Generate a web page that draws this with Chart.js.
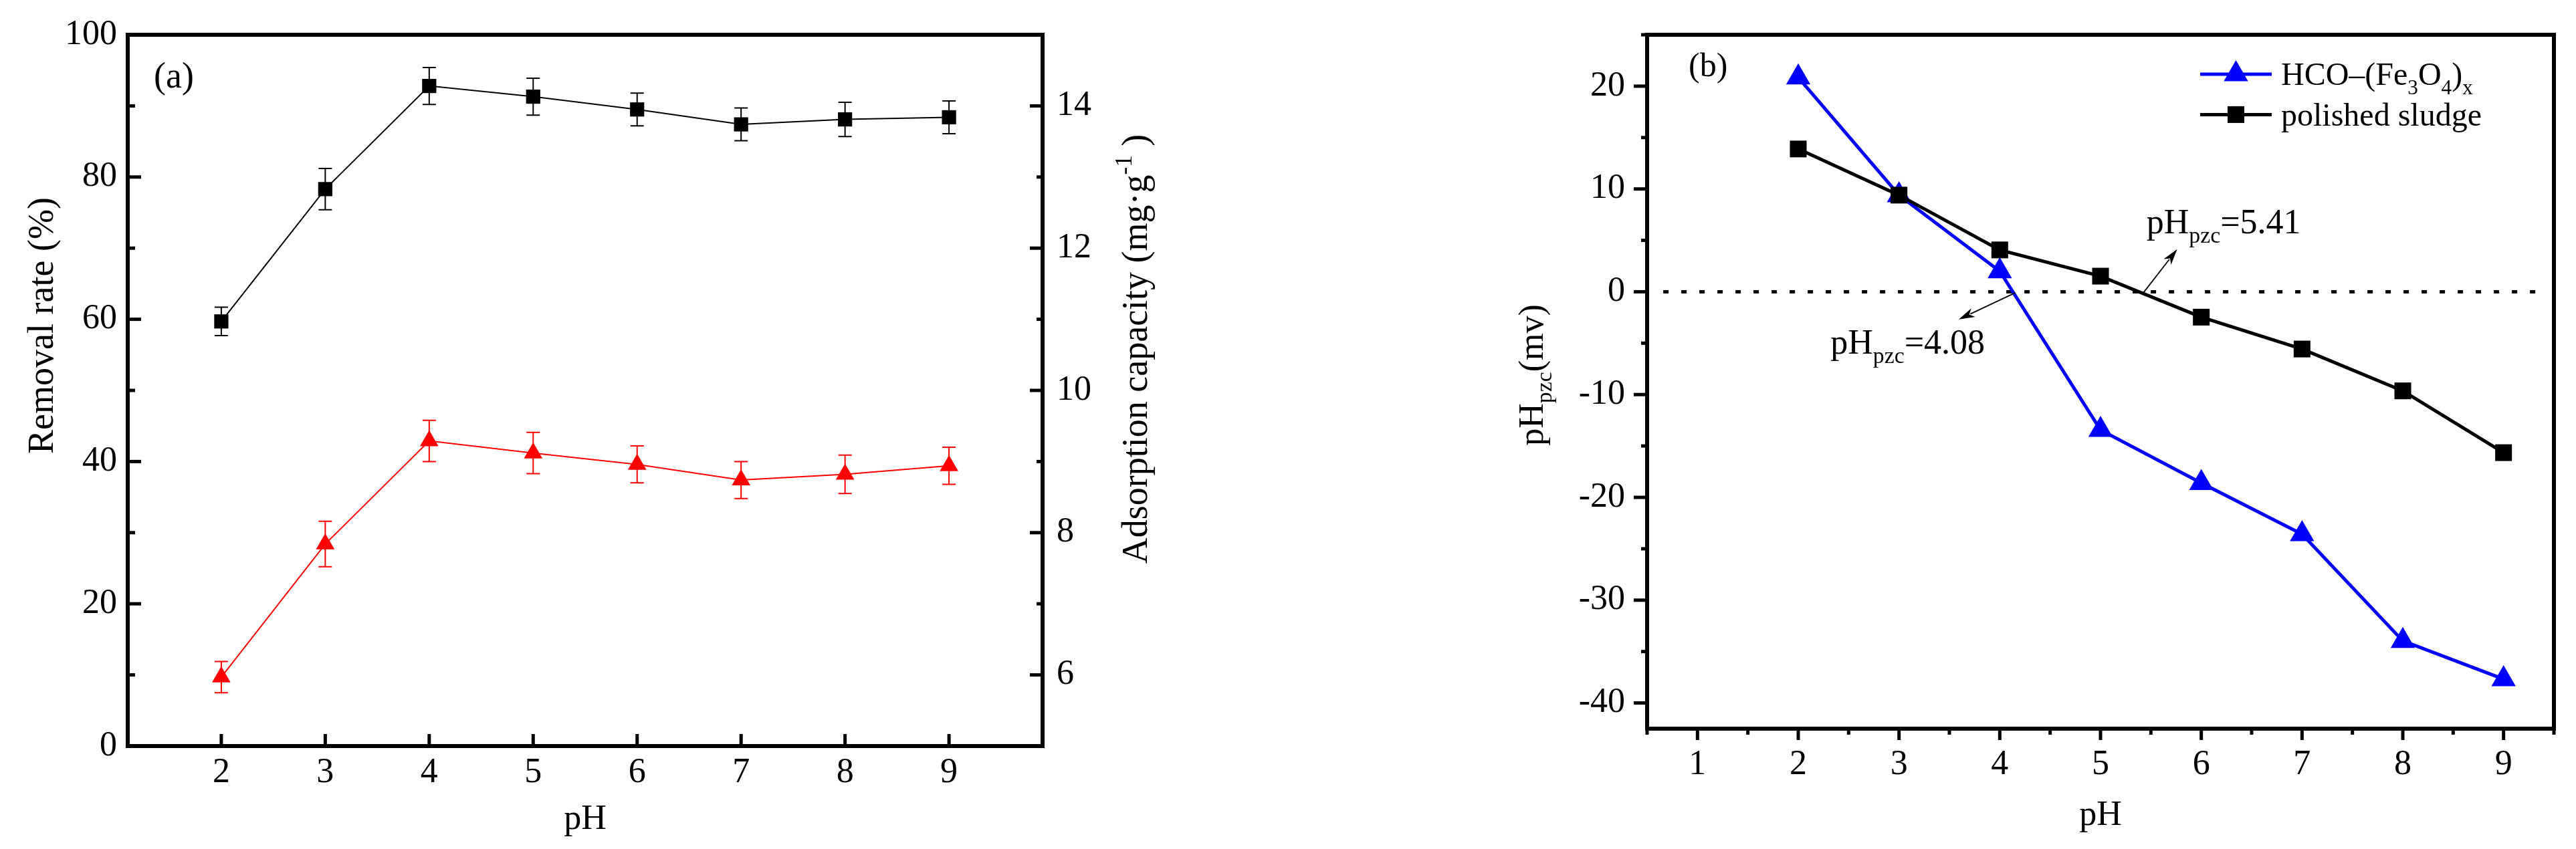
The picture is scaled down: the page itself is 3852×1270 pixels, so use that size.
<!DOCTYPE html>
<html><head><meta charset="utf-8">
<script src="https://cdn.jsdelivr.net/npm/chart.js@4.4.0/dist/chart.umd.min.js"></script>
<style>
html,body{margin:0;padding:0;background:#fff;}
#wrap{position:relative;width:3852px;height:1270px;background:#fff;}
.box{position:absolute;top:0;width:1926px;height:1270px;}
#boxA{left:0}#boxB{left:1926px}
canvas{display:block}
</style></head><body>
<div id="wrap"><div class="box" id="boxA"><canvas id="cA" width="1926" height="1270"></canvas></div><div class="box" id="boxB"><canvas id="cB" width="1926" height="1270"></canvas></div></div>
<script>
// ---------- data ----------
const pH = [2, 3, 4, 5, 6, 7, 8, 9];
const removalRate = [59.7, 78.3, 92.8, 91.3, 89.5, 87.4, 88.1, 88.4];
const removalErr = [2.0, 2.9, 2.6, 2.6, 2.3, 2.3, 2.4, 2.3];
const adsorptionCap = [5.97, 7.84, 9.29, 9.12, 8.96, 8.74, 8.82, 8.94];
const adsorptionErr = [0.22, 0.32, 0.29, 0.29, 0.26, 0.26, 0.27, 0.26];
const zetaHCO = [20.85, 9.4, 2.0, -13.44, -18.6, -23.58, -33.96, -37.68];
const zetaSludge = [13.89, 9.4, 4.07, 1.52, -2.47, -5.57, -9.64, -15.65];

// ---------- ticks ----------
const xTicksA = [2, 3, 4, 5, 6, 7, 8, 9];
const yTicksA = [0, 20, 40, 60, 80, 100];
const yMinorA = [10, 30, 50, 70, 90];
const y2TicksA = [6, 8, 10, 12, 14];
const y2MinorA = [7, 9, 11, 13];
const xTicksB = [1, 2, 3, 4, 5, 6, 7, 8, 9];
const xMinorB = [0.5, 1.5, 2.5, 3.5, 4.5, 5.5, 6.5, 7.5, 8.5, 9.5];
const yTicksB = [-40, -30, -20, -10, 0, 10, 20];
const yMinorB = [-35, -25, -15, -5, 5, 15, 25];

// ---------- annotations ----------
const zeroLineX = [0.66, 9.35];
const pzcLabels = [{value: '4.08', x: 2.32, y: -6.04}, {value: '5.41', x: 5.456, y: 5.70}];
const pzcArrows = [{x0: 4.155, y0: -0.09, x1: 3.593, y1: -2.69}, {x0: 5.41, y0: -0.29, x1: 5.761, y1: 4.14}];

const FAMILY = "'Liberation Serif', 'Times New Roman', serif";
Chart.defaults.font.family = FAMILY;
Chart.defaults.color = '#000';

function fixTicks(vals) { return (scale) => { scale.ticks = vals.map(v => ({value: v})); }; }
function fixSize(prop, val) { return (s) => { s[prop] = val; s.paddingTop = 0; s.paddingBottom = 0; s.paddingLeft = 0; s.paddingRight = 0; }; }

function drawRich(ctx, segs, x, y, size, align, rotate, subShift) {
  subShift = subShift == null ? 0.25 : subShift;
  ctx.save();
  ctx.translate(x, y);
  if (rotate) ctx.rotate(-Math.PI / 2);
  const sz = sg => sg.s ? size * 0.65 : size;
  const widths = segs.map(sg => { ctx.font = sz(sg) + 'px ' + FAMILY; return ctx.measureText(sg.t).width; });
  const total = widths.reduce((a, b) => a + b, 0);
  let cx = align === 'center' ? -total / 2 : (align === 'right' ? -total : 0);
  ctx.textBaseline = 'alphabetic';
  ctx.textAlign = 'left';
  ctx.fillStyle = '#000';
  segs.forEach((sg, i) => {
    ctx.font = sz(sg) + 'px ' + FAMILY;
    const dy = sg.s === 'sub' ? size * subShift : (sg.s === 'sup' ? -size * 0.42 : 0);
    ctx.fillText(sg.t, cx, dy);
    cx += widths[i];
  });
  ctx.restore();
}

function drawArrow(ctx, x0, y0, x1, y1) {
  const a = Math.atan2(y1 - y0, x1 - x0), c = Math.cos(a), s = Math.sin(a);
  const L = 24, W = 7;
  ctx.save();
  ctx.strokeStyle = '#000'; ctx.fillStyle = '#000'; ctx.lineWidth = 1.8;
  ctx.beginPath(); ctx.moveTo(x0, y0); ctx.lineTo(x1 - L * 0.8 * c, y1 - L * 0.8 * s); ctx.stroke();
  ctx.beginPath();
  ctx.moveTo(x1, y1);
  ctx.lineTo(x1 - L * c + W * s, y1 - L * s - W * c);
  ctx.lineTo(x1 - L * 0.72 * c, y1 - L * 0.72 * s);
  ctx.lineTo(x1 - L * c - W * s, y1 - L * s + W * c);
  ctx.closePath(); ctx.fill();
  ctx.restore();
}

function markerPath(ctx, style, x, y, r) {
  ctx.beginPath();
  if (style === 'rect') {
    const h = Math.SQRT1_2 * r; ctx.rect(x - h, y - h, 2 * h, 2 * h);
  } else {
    let rad = 0;
    ctx.moveTo(x + Math.sin(rad) * r, y - Math.cos(rad) * r);
    rad += 2 * Math.PI / 3; ctx.lineTo(x + Math.sin(rad) * r, y - Math.cos(rad) * r);
    rad += 2 * Math.PI / 3; ctx.lineTo(x + Math.sin(rad) * r, y - Math.cos(rad) * r);
    ctx.closePath();
  }
}

const errorBarPlugin = {
  id: 'errbars',
  beforeDatasetsDraw(chart) {
    const ctx = chart.ctx;
    chart.data.datasets.forEach(ds => {
      if (!ds.errors) return;
      const ys = chart.scales[ds.yAxisID], xs = chart.scales.x;
      ctx.save(); ctx.strokeStyle = ds.borderColor; ctx.lineWidth = 2;
      ds.data.forEach((p, i) => {
        const px = xs.getPixelForValue(p.x);
        const yt = ys.getPixelForValue(p.y + ds.errors[i]);
        const yb = ys.getPixelForValue(p.y - ds.errors[i]);
        ctx.beginPath();
        ctx.moveTo(px, yt); ctx.lineTo(px, yb);
        ctx.moveTo(px - 10, yt); ctx.lineTo(px + 10, yt);
        ctx.moveTo(px - 10, yb); ctx.lineTo(px + 10, yb);
        ctx.stroke();
      });
      ctx.restore();
    });
  }
};

function frameTicksPlugin(specs) {
  return {
    id: 'frameticks',
    afterDatasetsDraw(chart) {
      const ctx = chart.ctx, ca = chart.chartArea;
      ctx.save();
      ctx.strokeStyle = '#000';
      ctx.lineWidth = 5;
      specs.forEach(sp => {
        const sc = chart.scales[sp.scale];
        sp.values.forEach(v => {
          const p = sc.getPixelForValue(v);
          ctx.beginPath();
          if (sp.side === 'bottom') { ctx.moveTo(p, ca.bottom); ctx.lineTo(p, ca.bottom + sp.len); }
          else if (sp.side === 'left') { ctx.moveTo(ca.left, p); ctx.lineTo(ca.left + sp.len, p); }
          else { ctx.moveTo(ca.right, p); ctx.lineTo(ca.right + sp.len, p); }
          ctx.stroke();
        });
      });
      ctx.lineWidth = 6;
      ctx.strokeRect(ca.left, ca.top, ca.right - ca.left, ca.bottom - ca.top);
      ctx.restore();
    }
  };
}

// ---------- panel (a) ----------
const textA = {
  id: 'textA',
  afterDraw(chart) {
    const ctx = chart.ctx;
    drawRich(ctx, [{t: 'Removal rate (%)'}], 78.5, 487, 54, 'center', true);
    drawRich(ctx, [{t: 'Adsorption capacity (mg\u00B7g'}, {t: '-1', s: 'sup'}, {t: ' )'}], 1715, 522, 54, 'center', true);
    drawRich(ctx, [{t: 'pH'}], 875, 1240, 52, 'center', false);
    drawRich(ctx, [{t: '(a)'}], 230, 131, 54, 'left', false);
  }
};

new Chart(document.getElementById('cA'), {
  type: 'line',
  data: {
    datasets: [
      {label: 'Removal rate', data: pH.map((x, i) => ({x, y: removalRate[i]})), yAxisID: 'y',
       borderColor: '#000', backgroundColor: '#000', borderWidth: 2, pointStyle: 'rect', pointRadius: 15,
       pointBorderWidth: 0, errors: removalErr},
      {label: 'Adsorption capacity', data: pH.map((x, i) => ({x, y: adsorptionCap[i]})), yAxisID: 'y2',
       borderColor: '#ff0000', backgroundColor: '#ff0000', borderWidth: 2, pointStyle: 'triangle', pointRadius: 16,
       pointBorderWidth: 0, errors: adsorptionErr}
    ]
  },
  options: {
    responsive: false, animation: false, devicePixelRatio: 1,
    layout: {padding: {top: 52, left: 0, right: 0, bottom: 0}},
    plugins: {legend: {display: false}, tooltip: {enabled: false}},
    scales: {
      x: {type: 'linear', min: 1.1, max: 9.9, afterBuildTicks: fixTicks(xTicksA), afterFit: fixSize('height', 154),
          grid: {display: false, drawTicks: false}, border: {display: false},
          ticks: {padding: 14, autoSkip: false, maxRotation: 0, font: {size: 52, lineHeight: 1}}},
      y: {type: 'linear', position: 'left', min: 0, max: 100, afterBuildTicks: fixTicks(yTicksA), afterFit: fixSize('width', 191),
          grid: {display: false, drawTicks: false}, border: {display: false},
          ticks: {padding: 16, autoSkip: false, font: {size: 52, lineHeight: 1}}},
      y2: {type: 'linear', position: 'right', min: 5, max: 15, afterBuildTicks: fixTicks(y2TicksA), afterFit: fixSize('width', 367),
          grid: {display: false, drawTicks: false}, border: {display: false},
          ticks: {padding: 21, autoSkip: false, font: {size: 52, lineHeight: 1}}}
    }
  },
  plugins: [errorBarPlugin, frameTicksPlugin([
    {scale: 'x', values: xTicksA, side: 'bottom', len: -18},
    {scale: 'y', values: yTicksA, side: 'left', len: 20},
    {scale: 'y', values: yMinorA, side: 'left', len: 11},
    {scale: 'y2', values: y2TicksA, side: 'right', len: -19},
    {scale: 'y2', values: y2MinorA, side: 'right', len: -9}
  ]), textA]
});

// ---------- panel (b) ----------
const textB = {
  id: 'textB',
  afterDraw(chart) {
    const ctx = chart.ctx, xs = chart.scales.x, ys = chart.scales.y;
    drawRich(ctx, [{t: 'pH'}, {t: 'pzc', s: 'sub'}, {t: '(mv)'}], 381, 561, 52, 'center', true);
    drawRich(ctx, [{t: 'pH'}], 1215, 1234, 52, 'center', false);
    drawRich(ctx, [{t: '(b)'}], 599, 114, 50, 'left', false);
    pzcLabels.forEach(l => {
      drawRich(ctx, [{t: 'pH'}, {t: 'pzc', s: 'sub'}, {t: '=' + l.value}], xs.getPixelForValue(l.x), ys.getPixelForValue(l.y), 52, 'left', false, 0.27);
    });
    pzcArrows.forEach(a => drawArrow(ctx, xs.getPixelForValue(a.x0), ys.getPixelForValue(a.y0), xs.getPixelForValue(a.x1), ys.getPixelForValue(a.y1)));
    // legend
    const rows = [
      {ds: chart.data.datasets[1], y: 111, base: 126.5, segs: [{t: 'HCO\u2013(Fe'}, {t: '3', s: 'sub'}, {t: 'O'}, {t: '4', s: 'sub'}, {t: ')'}, {t: 'x', s: 'sub'}]},
      {ds: chart.data.datasets[0], y: 171.4, base: 188, segs: [{t: 'polished sludge'}]}
    ];
    rows.forEach(r => {
      ctx.save();
      ctx.strokeStyle = r.ds.borderColor; ctx.lineWidth = r.ds.borderWidth;
      ctx.beginPath(); ctx.moveTo(1364, r.y); ctx.lineTo(1471, r.y); ctx.stroke();
      ctx.fillStyle = r.ds.backgroundColor;
      markerPath(ctx, r.ds.pointStyle, 1417.5, r.y, r.ds.pointRadius); ctx.fill();
      ctx.restore();
      drawRich(ctx, r.segs, 1485, r.base, 48, 'left', false, 0.3);
    });
  }
};

new Chart(document.getElementById('cB'), {
  type: 'line',
  data: {
    datasets: [
      {label: 'polished sludge', data: pH.map((x, i) => ({x, y: zetaSludge[i]})), order: 0,
       borderColor: '#000', backgroundColor: '#000', borderWidth: 5, pointStyle: 'rect', pointRadius: 17.7, pointBorderWidth: 0},
      {label: 'HCO\u2013(Fe3O4)x', data: pH.map((x, i) => ({x, y: zetaHCO[i]})), order: 1,
       borderColor: '#0000ff', backgroundColor: '#0000ff', borderWidth: 5, pointStyle: 'triangle', pointRadius: 21, pointBorderWidth: 0},
      {label: 'zero', data: zeroLineX.map(x => ({x, y: 0})), order: 2,
       borderColor: '#000', borderWidth: 5, borderDash: [8, 19], borderCapStyle: 'butt', pointRadius: 0}
    ]
  },
  options: {
    responsive: false, animation: false, devicePixelRatio: 1,
    layout: {padding: {top: 52, left: 0, right: 33, bottom: 0}},
    plugins: {legend: {display: false}, tooltip: {enabled: false}},
    scales: {
      x: {type: 'linear', min: 0.5, max: 9.5, afterBuildTicks: fixTicks(xTicksB), afterFit: fixSize('height', 180),
          grid: {display: false, drawTicks: false}, border: {display: false},
          ticks: {padding: 28, autoSkip: false, maxRotation: 0, font: {size: 52, lineHeight: 1}}},
      y: {type: 'linear', position: 'left', min: -42.5, max: 25, afterBuildTicks: fixTicks(yTicksB), afterFit: fixSize('width', 537),
          grid: {display: false, drawTicks: false}, border: {display: false},
          ticks: {padding: 33, autoSkip: false, font: {size: 52, lineHeight: 1}}}
    }
  },
  plugins: [frameTicksPlugin([
    {scale: 'x', values: xTicksB, side: 'bottom', len: 17},
    {scale: 'x', values: xMinorB, side: 'bottom', len: 9},
    {scale: 'y', values: yTicksB, side: 'left', len: -20},
    {scale: 'y', values: yMinorB, side: 'left', len: -9}
  ]), textB]
});
</script>
</body></html>
